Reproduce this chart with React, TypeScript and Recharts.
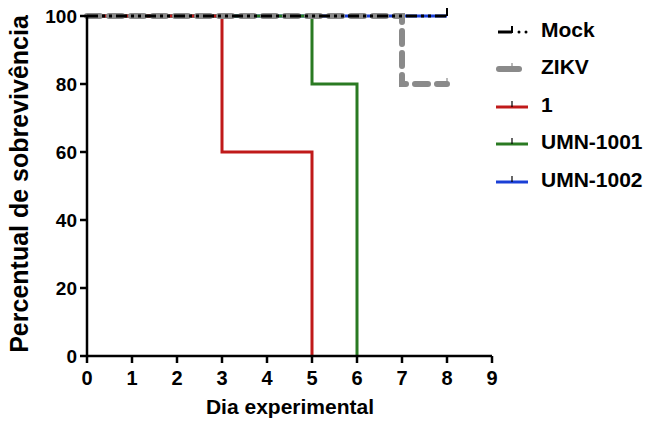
import React from 'react';
import { LineChart, Line, XAxis, YAxis, Legend, Label } from 'recharts';

const xTicks = [0, 1, 2, 3, 4, 5, 6, 7, 8, 9];
const yTicks = [0, 20, 40, 60, 80, 100];

const mockDays = [0, 8];
const mockVals = [100, 100];
const zikvDays = [0, 7, 8];
const zikvVals = [100, 80, 80];
const c1Days = [0, 3, 5];
const c1Vals = [100, 60, 0];
const umn1001Days = [0, 5, 6];
const umn1001Vals = [100, 80, 0];
const umn1002Days = [0, 8];
const umn1002Vals = [100, 100];

const seriesNames = ['Mock', 'ZIKV', '1', 'UMN-1001', 'UMN-1002'];
const seriesColors = ['#000000', '#8a8a8a', '#c01a1a', '#2a7a22', '#1a3fd6'];

const toData = (days: number[], vals: number[]) => days.map((d, i) => ({ day: d, v: vals[i] }));

const FONT = '"Liberation Sans", Arial, Helvetica, sans-serif';

const censorDot = (len: number, color: string, width: number, lastIndex: number) => (props: any) => {
  const { cx, cy, index } = props;
  if (index !== lastIndex || cx == null || cy == null) return <g key={`d-${index}`} />;
  return <line key={`d-${index}`} x1={cx} y1={cy} x2={cx} y2={cy - len} stroke={color} strokeWidth={width} />;
};

const LegendSymbol = ({ idx }: { idx: number }) => {
  const c = seriesColors[idx];
  if (idx === 0) {
    return (
      <svg width={36} height={16} style={{ display: 'block' }}>
        <line x1={2} y1={10} x2={16} y2={10} stroke={c} strokeWidth={3} />
        <line x1={16} y1={11} x2={16} y2={4} stroke={c} strokeWidth={2} />
        <circle cx={23} cy={10} r={1.5} fill={c} />
        <circle cx={30} cy={10} r={1.5} fill={c} />
      </svg>
    );
  }
  if (idx === 1) {
    return (
      <svg width={36} height={16} style={{ display: 'block' }}>
        <line x1={3} y1={10} x2={23} y2={10} stroke={c} strokeWidth={6} strokeLinecap="round" />
        <line x1={16} y1={10} x2={16} y2={4} stroke={c} strokeWidth={1.2} />
      </svg>
    );
  }
  return (
    <svg width={36} height={16} style={{ display: 'block' }}>
      <line x1={0} y1={10} x2={32} y2={10} stroke={c} strokeWidth={3} />
      <line x1={16} y1={10} x2={16} y2={4} stroke="#000" strokeWidth={1.2} />
    </svg>
  );
};

const renderLegend = () => (
  <div style={{ fontFamily: FONT, fontWeight: 'bold' }}>
    {seriesNames.map((n, i) => (
      <div key={n} style={{ display: 'flex', alignItems: 'center', height: 37.5 }}>
        <LegendSymbol idx={i} />
        <span style={{ marginLeft: 9, fontSize: 21, color: '#000' }}>{n}</span>
      </div>
    ))}
  </div>
);

export default function App() {
  return (
    <div style={{ position: 'absolute', left: 0, top: 0, background: '#fff' }}>
      <LineChart width={646} height={425} margin={{ top: 16, right: 154, left: 0, bottom: 0 }}>
        <XAxis
          dataKey="day"
          type="number"
          domain={[0, 9]}
          ticks={xTicks}
          interval={0}
          allowDuplicatedCategory={false}
          height={69}
          tickSize={7}
          tickMargin={8}
          axisLine={{ stroke: '#000', strokeWidth: 2.5 }}
          tickLine={{ stroke: '#000', strokeWidth: 2.5 }}
          tick={{ fill: '#000', fontSize: 20, fontWeight: 'bold', fontFamily: FONT }}
        >
          <Label
            content={() => (
              <text x={290} y={414} textAnchor="middle" fontSize={21} fontWeight="bold" fontFamily={FONT} fill="#000">
                Dia experimental
              </text>
            )}
          />
        </XAxis>
        <YAxis
          type="number"
          domain={[0, 100]}
          ticks={yTicks}
          interval={0}
          width={87}
          tickSize={7}
          tickMargin={3}
          axisLine={{ stroke: '#000', strokeWidth: 2.5 }}
          tickLine={{ stroke: '#000', strokeWidth: 2.5 }}
          tick={{ fill: '#000', fontSize: 19, fontWeight: 'bold', fontFamily: FONT }}
        >
          <Label
            content={() => (
              <text
                x={0}
                y={0}
                transform="translate(28, 184) rotate(-90)"
                textAnchor="middle"
                fontSize={25}
                fontWeight="bold"
                fontFamily={FONT}
                fill="#000"
              >
                Percentual de sobrevivência
              </text>
            )}
          />
        </YAxis>
        <Legend
          layout="vertical"
          align="center"
          verticalAlign="middle"
          content={renderLegend}
          wrapperStyle={{ position: 'absolute', left: 496, top: 11, width: 150 }}
        />
        <Line
          data={toData(umn1002Days, umn1002Vals)}
          dataKey="v"
          name="UMN-1002"
          type="stepAfter"
          stroke={seriesColors[4]}
          strokeWidth={3}
          dot={censorDot(7, '#000', 2, umn1002Days.length - 1)}
          activeDot={false}
          isAnimationActive={false}
        />
        <Line
          data={toData(umn1001Days, umn1001Vals)}
          dataKey="v"
          name="UMN-1001"
          type="stepAfter"
          stroke={seriesColors[3]}
          strokeWidth={3}
          dot={false}
          activeDot={false}
          isAnimationActive={false}
        />
        <Line
          data={toData(c1Days, c1Vals)}
          dataKey="v"
          name="1"
          type="stepAfter"
          stroke={seriesColors[2]}
          strokeWidth={3}
          dot={false}
          activeDot={false}
          isAnimationActive={false}
        />
        <Line
          data={toData(zikvDays, zikvVals)}
          dataKey="v"
          name="ZIKV"
          type="stepAfter"
          stroke={seriesColors[1]}
          strokeWidth={6}
          strokeDasharray="13 9"
          strokeLinecap="round"
          dot={censorDot(6, seriesColors[1], 1.2, zikvDays.length - 1)}
          activeDot={false}
          isAnimationActive={false}
        />
        <Line
          data={toData(mockDays, mockVals)}
          dataKey="v"
          name="Mock"
          type="stepAfter"
          stroke={seriesColors[0]}
          strokeWidth={3}
          strokeDasharray="11 4 3 4 3 4"
          dot={censorDot(8, '#000', 2, mockDays.length - 1)}
          activeDot={false}
          isAnimationActive={false}
        />
      </LineChart>
    </div>
  );
}
